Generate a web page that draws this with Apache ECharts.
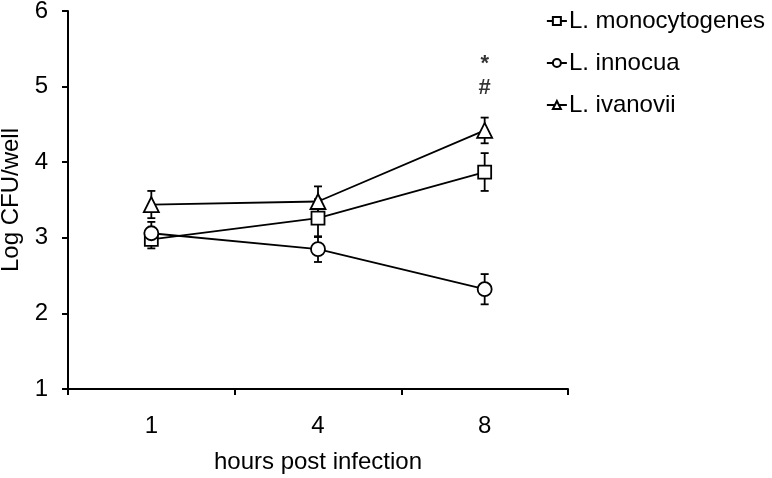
<!DOCTYPE html>
<html><head><meta charset="utf-8">
<script src="https://cdn.jsdelivr.net/npm/echarts@6/dist/echarts.min.js"></script>
<style>html,body{margin:0;padding:0;background:#fff}#c{width:772px;height:478px}</style>
</head><body><div id="c"></div>
<script>
var categories = ['1', '4', '8'];
var seriesNames = ['L. monocytogenes', 'L. innocua', 'L. ivanovii'];
var monoMean = [2.98, 3.26, 3.87];
var monoErr = [0.12, 0.25, 0.25];
var innoMean = [3.06, 2.85, 2.32];
var innoErr = [0.15, 0.17, 0.20];
var ivanMean = [3.44, 3.48, 4.42];
var ivanErr = [0.18, 0.20, 0.17];
var yTicks = [1, 2, 3, 4, 5, 6];

var font = 'Liberation Sans, Arial, sans-serif';
var chart = echarts.init(document.getElementById('c'));

function errSeries(means, errs) {
  return {
    type: 'custom', z: 1, silent: true,
    data: means.map(function (m, i) { return [i, m - errs[i], m + errs[i]]; }),
    renderItem: function (params, api) {
      var lo = api.coord([api.value(0), api.value(1)]);
      var hi = api.coord([api.value(0), api.value(2)]);
      var w = 4;
      var st = { stroke: '#000', lineWidth: 1.8, fill: null };
      return { type: 'group', children: [
        { type: 'line', shape: { x1: lo[0], y1: lo[1], x2: hi[0], y2: hi[1] }, style: st },
        { type: 'line', shape: { x1: lo[0] - w, y1: lo[1], x2: lo[0] + w, y2: lo[1] }, style: st },
        { type: 'line', shape: { x1: hi[0] - w, y1: hi[1], x2: hi[0] + w, y2: hi[1] }, style: st }
      ]};
    }
  };
}
function lineSeries(name, data, symbol, size) {
  return {
    name: name, type: 'line', data: data, symbol: symbol, symbolSize: size, z: 3,
    lineStyle: { color: '#000', width: 1.8 },
    itemStyle: { color: '#fff', borderColor: '#000', borderWidth: 1.8 },
    emphasis: { disabled: true }
  };
}

chart.setOption({
  animation: false,
  grid: { left: 68, right: 204, top: 11, bottom: 89, containLabel: false, outerBoundsMode: 'none' },
  legend: {
    right: 2, top: 4, orient: 'vertical', itemGap: 18, itemWidth: 20, itemHeight: 10,
    data: seriesNames,
    textStyle: { fontFamily: font, fontSize: 24, color: '#000', padding: [0, 0, 0, -3] },
    inactiveColor: '#000'
  },
  xAxis: {
    type: 'category', data: categories, boundaryGap: true,
    name: 'hours post infection', nameLocation: 'middle', nameGap: 61,
    nameTextStyle: { fontFamily: font, fontSize: 24, color: '#000' },
    axisLine: { lineStyle: { color: '#000', width: 2 } },
    axisTick: { show: true, length: 6, lineStyle: { color: '#000', width: 2 } },
    axisLabel: { fontFamily: font, fontSize: 24, color: '#000', margin: 25 }
  },
  yAxis: {
    type: 'value', min: 1, max: 6, interval: 1,
    name: 'Log CFU/well', nameLocation: 'middle', nameGap: 36,
    nameTextStyle: { fontFamily: font, fontSize: 24, color: '#000' },
    axisLine: { show: true, lineStyle: { color: '#000', width: 2 } },
    axisTick: { show: true, length: 6, lineStyle: { color: '#000', width: 2 } },
    axisLabel: { fontFamily: font, fontSize: 24, color: '#000', margin: 20 },
    splitLine: { show: false }
  },
  series: [
    errSeries(monoMean, monoErr),
    errSeries(innoMean, innoErr),
    errSeries(ivanMean, ivanErr),
    lineSeries(seriesNames[0], monoMean, 'rect', 13),
    lineSeries(seriesNames[1], innoMean, 'circle', 14),
    lineSeries(seriesNames[2], ivanMean, 'triangle', 15),
    {
      type: 'scatter', silent: true, symbolSize: 0, z: 4,
      data: [[2, ivanMean[2] + ivanErr[2]]],
      label: { show: true, position: 'top', distance: 18, formatter: '*\n#', lineHeight: 24,
        fontFamily: font, fontSize: 22, fontWeight: 'bold', color: '#000' }
    }
  ]
});
</script></body></html>
